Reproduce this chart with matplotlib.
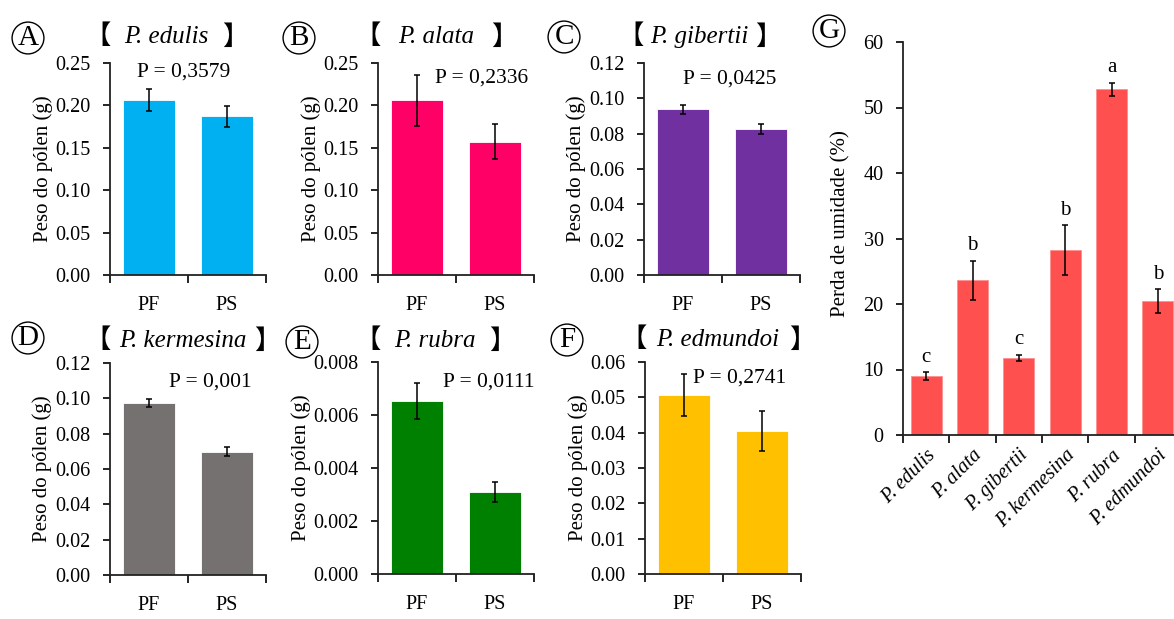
import numpy as np
import matplotlib
matplotlib.use("Agg")
import matplotlib.pyplot as plt
from matplotlib.ticker import FormatStrFormatter, FixedLocator

plt.rcParams["font.family"] = ["Liberation Serif", "DejaVu Serif"]

# ---------------------------------------------------------------
# data
# ---------------------------------------------------------------
categories = ["PF", "PS"]
species = ["P. edulis", "P. alata", "P. gibertii", "P. kermesina", "P. rubra", "P. edmundoi"]
panel_letters = ["A", "B", "C", "D", "E", "F"]

pf_mean = [0.206, 0.206, 0.0937, 0.0973, 0.00654, 0.0506]
ps_mean = [0.187, 0.157, 0.0826, 0.0699, 0.00309, 0.0404]
pf_err = [0.013, 0.030, 0.0025, 0.0022, 0.00068, 0.0059]
ps_err = [0.0126, 0.0205, 0.0027, 0.0025, 0.00038, 0.0056]
p_values = ["P = 0,3579", "P = 0,2336", "P = 0,0425", "P = 0,001", "P = 0,0111", "P = 0,2741"]

y_max = [0.25, 0.25, 0.12, 0.12, 0.008, 0.06]
y_step = [0.05, 0.05, 0.02, 0.02, 0.002, 0.01]
y_fmt = ["%.2f", "%.2f", "%.2f", "%.2f", "%.3f", "%.2f"]
colors = ["#00B0F0", "#FF0066", "#7030A0", "#767171", "#008000", "#FFC000"]

moisture_loss = [9.0, 23.6, 11.8, 28.2, 52.8, 20.4]
moisture_err = [0.6, 3.0, 0.43, 3.8, 1.0, 1.85]
moisture_letters = ["c", "b", "c", "b", "a", "b"]
moisture_color = "#FF5050"

# ---------------------------------------------------------------
# layout, in pixels of the 1174x619 picture
# ---------------------------------------------------------------
W, H = 1174, 619

# (left, right, top, bottom) of each small panel
boxes = [(110, 266, 63, 275), (378, 534, 63, 275), (644, 800, 63, 275),
         (110, 266, 363, 575), (378, 534, 362, 574), (645, 801, 362, 574)]
# circled letter centre
circles = [(28, 38), (299, 38), (564, 37), (28, 338), (302, 342), (567, 340)]
# bracket x positions and y centre of the species title
brackets = [(106, 227, 37), (376, 496, 37), (639, 760, 37),
            (106, 259, 341), (376, 494, 341), (642, 794, 340)]
# centre of the P value text
p_pos = [(184, 72), (482, 78), (730, 79), (210, 382), (489, 382), (740, 378)]

TICK_SIZE = 14.5
LABEL_SIZE = 15


def fx(x):
    return x / W


def fy(y):
    return 1 - y / H


def style_axes(ax):
    for side in ["top", "right"]:
        ax.spines[side].set_visible(False)
    for side in ["left", "bottom"]:
        ax.spines[side].set_linewidth(1.3)
        ax.spines[side].set_color("#222222")
    ax.tick_params(axis="y", which="major", length=5, width=1.2, pad=9, labelsize=TICK_SIZE)


def circled(x, y, letter):
    fig.text(fx(x), fy(y), letter, fontsize=21, ha="center", va="center",
             bbox=dict(boxstyle="circle,pad=0.1", facecolor="none", edgecolor="black", linewidth=1))


fig = plt.figure(figsize=(W / 100, H / 100), dpi=100)

for i in range(6):
    l, r, t, b = boxes[i]
    ax = fig.add_axes([fx(l), fy(b), (r - l) / W, (b - t) / H])
    x = np.arange(len(categories))
    means = [pf_mean[i], ps_mean[i]]
    errs = [pf_err[i], ps_err[i]]
    ax.bar(x, means, width=0.67, color=colors[i], edgecolor="white", linewidth=0.6)
    ax.errorbar(x, means, yerr=errs, fmt="none", ecolor="black", elinewidth=1.1,
                capsize=2.5, capthick=1.1)
    ax.set_xlim(-0.5, 1.5)
    ax.set_ylim(0, y_max[i])
    ax.set_yticks(np.arange(0, y_max[i] + y_step[i] / 2, y_step[i]))
    ax.yaxis.set_major_formatter(FormatStrFormatter(y_fmt[i]))
    # category borders get the tick marks, the centres get the labels
    ax.xaxis.set_major_locator(FixedLocator([-0.5, 0.5, 1.5]))
    ax.xaxis.set_minor_locator(FixedLocator(x))
    ax.set_xticklabels([], minor=False)
    ax.set_xticklabels(categories, minor=True)
    ax.tick_params(axis="x", which="major", length=6, width=1.2)
    ax.tick_params(axis="x", which="minor", length=0, pad=15, labelsize=TICK_SIZE)
    style_axes(ax)
    ax.set_ylabel("Peso do pólen (g)", fontsize=LABEL_SIZE, labelpad=2)

    # P value
    px, py = p_pos[i]
    fig.text(fx(px), fy(py), p_values[i], fontsize=15.5, ha="center", va="center")

    circled(*circles[i], panel_letters[i])

    # species title between heavy brackets; the CJK glyphs sit at the inner
    # side of their full-width box, so anchor them by their outer edge
    bl, br, by = brackets[i]
    fig.text(fx(bl + 5), fy(by), "【", fontsize=19, family="Noto Sans CJK SC", ha="right", va="center")
    fig.text(fx(br - 5), fy(by), "】", fontsize=19, family="Noto Sans CJK SC", ha="left", va="center")
    fig.text(fx((bl + br) / 2), fy(by), species[i], fontsize=18, style="italic",
             ha="center", va="center")

# ---------------------------------------------------------------
# panel G - moisture loss
# ---------------------------------------------------------------
gl, gr, gt, gb = 903, 1181, 42, 435
axg = fig.add_axes([fx(gl), fy(gb), (gr - gl) / W, (gb - gt) / H])
xg = np.arange(len(species))
axg.bar(xg, moisture_loss, width=0.67, color=moisture_color, edgecolor="#FF9090", linewidth=0.6)
axg.errorbar(xg, moisture_loss, yerr=moisture_err, fmt="none", ecolor="black",
             elinewidth=1.1, capsize=2.5, capthick=1.1)
for xi, val, err, letter in zip(xg, moisture_loss, moisture_err, moisture_letters):
    axg.annotate(letter, (xi, val + err), xytext=(0, 4), textcoords="offset points",
                 ha="center", va="bottom", fontsize=15)
axg.set_xlim(-0.5, len(species) - 0.5)
axg.set_ylim(0, 60)
axg.set_yticks(np.arange(0, 61, 10))
axg.xaxis.set_major_locator(FixedLocator(np.arange(-0.5, len(species), 1.0)))
axg.xaxis.set_minor_locator(FixedLocator(xg))
axg.set_xticklabels([], minor=False)
axg.set_xticklabels(species, minor=True, rotation=45, ha="right", va="top",
                    rotation_mode="anchor", style="italic")
axg.tick_params(axis="x", which="major", length=6, width=1.2)
axg.tick_params(axis="x", which="minor", length=0, pad=8, labelsize=TICK_SIZE)
style_axes(axg)
axg.set_ylabel("Perda de umidade (%)", fontsize=LABEL_SIZE)
axg.yaxis.set_label_coords(-0.19, 0.537)
circled(829, 31, "G")

fig.savefig("out.png", dpi=100)
